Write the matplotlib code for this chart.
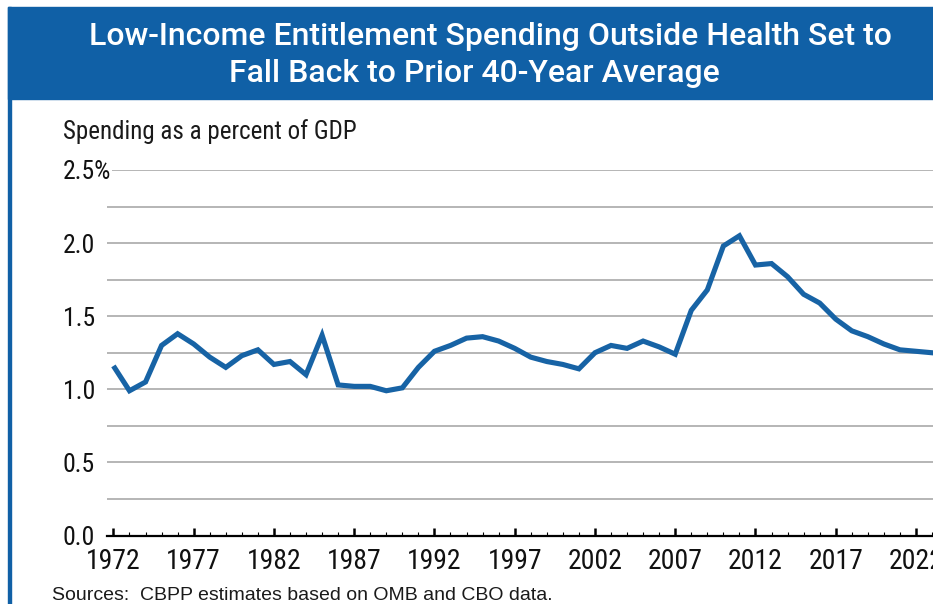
import matplotlib
matplotlib.use("Agg")
import matplotlib.pyplot as plt
from matplotlib import font_manager
from matplotlib.patches import Rectangle
from matplotlib.ticker import MultipleLocator

# ----------------------------------
# データ（GDP比、%）
years = list(range(1972, 2025))
spending = [
    1.16, 0.99, 1.05, 1.30, 1.38, 1.31, 1.22, 1.15, 1.23, 1.27,   # 1972-1981
    1.17, 1.19, 1.10, 1.37, 1.03, 1.02, 1.02, 0.99, 1.01, 1.15,   # 1982-1991
    1.26, 1.30, 1.35, 1.36, 1.33, 1.28, 1.22, 1.19, 1.17, 1.14,   # 1992-2001
    1.25, 1.30, 1.28, 1.33, 1.29, 1.24, 1.54, 1.68, 1.98, 2.05,   # 2002-2011
    1.85, 1.86, 1.77, 1.65, 1.59, 1.48, 1.40, 1.36, 1.31, 1.27,   # 2012-2021
    1.26, 1.25, 1.24,                                             # 2022-2024
]
y_ticks = [0.0, 0.5, 1.0, 1.5, 2.0, 2.5]
y_tick_labels = ["0.0", "0.5", "1.0", "1.5", "2.0", "2.5%"]
x_ticks = list(range(1972, 2023, 5))

title = "Low-Income Entitlement Spending Outside Health Set to\nFall Back to Prior 40-Year Average"
y_caption = "Spending as a percent of GDP"
source = "Sources:  CBPP estimates based on OMB and CBO data."

# ----------------------------------
# 色・フォント
BLUE = "#1060a6"
LINE = "#1763a5"
GRID = "#b5b5b5"


def pick_font(names, **kw):
    for n in names:
        try:
            font_manager.findfont(font_manager.FontProperties(family=n, **kw),
                                  fallback_to_default=False)
            return n
        except Exception:
            pass
    return "DejaVu Sans"


narrow = pick_font(["Roboto Condensed", "Liberation Sans Narrow", "Open Sans Condensed"])
title_font = pick_font(["Roboto", "Liberation Sans"])
body_font = pick_font(["Liberation Sans", "Arial"])

# ----------------------------------
# 図の作成
fig = plt.figure(figsize=(9.33, 6.04), dpi=100)
W, H = 933.0, 604.0

# 見出し帯と左の罫線
fig.patches.append(Rectangle((8 / W, 1 - 99 / H), 1, 92 / H,
                             transform=fig.transFigure, color=BLUE, zorder=0))
fig.patches.append(Rectangle((8 / W, 0), 2.5 / W, 1 - 7 / H,
                             transform=fig.transFigure, color=BLUE, zorder=0))

lines = title.split("\n")
fig.text(490 / W, 1 - 45 / H, lines[0], color="white", fontsize=23,
         family=title_font, weight="medium", ha="center", va="baseline")
fig.text(474 / W, 1 - 82 / H, lines[1], color="white", fontsize=23,
         family=title_font, weight="medium", ha="center", va="baseline")

ax = fig.add_axes([107 / W, 1 - 535.5 / H, 1 - 107 / W, (535.5 - 170) / H])
ax.plot(years, spending, color=LINE, lw=3.7, solid_joinstyle="miter",
        solid_capstyle="butt", zorder=3, clip_on=True)

ax.set_xlim(1971.6, 2023.06)
ax.set_ylim(0, 2.5)

# 目盛り・グリッド
ax.set_yticks(y_ticks)
ax.set_yticklabels(y_tick_labels)
ax.yaxis.set_minor_locator(MultipleLocator(0.25))
ax.grid(axis="y", which="both", color=GRID, lw=1.4)
ax.tick_params(axis="y", which="both", length=0, pad=32, labelsize=18.5,
               labelcolor="#111111")
for lab in ax.get_yticklabels():
    lab.set_horizontalalignment("left")
    lab.set_family(narrow)
# 「2.5%」の後ろだけグリッド線を隠す
ax.get_yticklabels()[-1].set_bbox(dict(facecolor="white", edgecolor="none", pad=1))

ax.set_xticks(x_ticks)
ax.xaxis.set_minor_locator(MultipleLocator(1))
ax.tick_params(axis="x", which="major", direction="in", length=5.5, width=1.8,
               pad=9, labelsize=20, labelcolor="#111111")
ax.tick_params(axis="x", which="minor", direction="in", length=3.2, width=0.8)
for lab in ax.get_xticklabels():
    lab.set_family(narrow)

for s in ["top", "right", "left"]:
    ax.spines[s].set_visible(False)
ax.spines["bottom"].set_linewidth(1.6)
ax.spines["bottom"].set_zorder(4)
ax.set_axisbelow(True)

fig.text(63 / W, 1 - 139 / H, y_caption, fontsize=18, family=narrow,
         color="#1a1a1a", ha="left", va="baseline")
fig.text(52 / W, 1 - 600 / H, source, fontsize=14, family=body_font,
         color="#1a1a1a", ha="left", va="baseline")

fig.savefig("out.png", dpi=100)
